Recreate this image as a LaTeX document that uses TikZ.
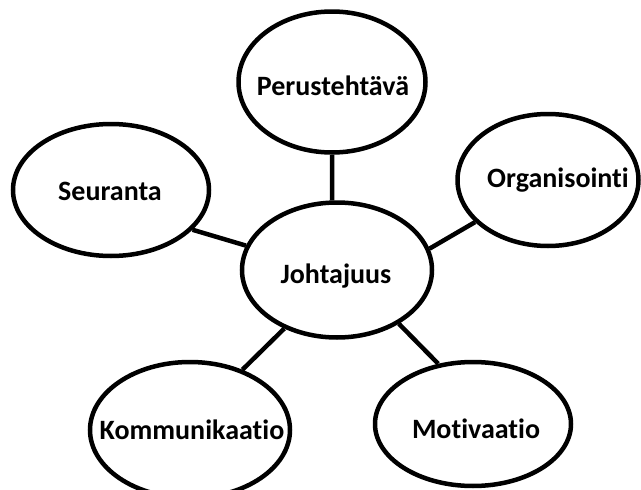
\documentclass[tikz,border=0pt]{standalone}
\usepackage{fontspec}
\setmainfont{Carlito}[Ligatures=NoCommon]
\usetikzlibrary{shapes.geometric}
\begin{document}
\begin{tikzpicture}[x=1pt,y=-1pt,
  oval/.style={ellipse,draw=black,line width=4.5pt,inner sep=0pt,fill=white},
  lbl/.style={anchor=base,inner sep=0pt,font=\fontsize{28}{33}\selectfont\bfseries},
  link/.style={draw=black,line width=4.5pt}]
\useasboundingbox[fill=white] (0,0) rectangle (641,490);
% ellipses
\node[oval,minimum width=190pt,minimum height=135pt] (J) at (337,270) {};
\node[oval,minimum width=187pt,minimum height=141pt] (P) at (332,82) {};
\node[oval,minimum width=196pt,minimum height=132pt] (S) at (111,190) {};
\node[oval,minimum width=181pt,minimum height=132pt] (O) at (548,180) {};
\node[oval,minimum width=200pt,minimum height=136pt] (K) at (190,430) {};
\node[oval,minimum width=196pt,minimum height=124pt] (M) at (473,424) {};
% connectors
\draw[link] (P.270) -- (J.94);
\draw[link] (S.-26) -- (J.165);
\draw[link] (O.210) -- (J.13);
\draw[link] (K.49) -- (J.228);
\draw[link] (M.120) -- (J.319);
% labels
\node[lbl] (tJ) at (336,283) {Johtajuus};
\node[lbl] (tP) at (333,95) {Perustehtävä};
\node[lbl] (tS) at (110,200) {Seuranta};
\node[lbl] (tO) at (558,187) {Organisointi};
\node[lbl] (tK) at (192,439) {Kommunikaatio};
\node[lbl] (tM) at (476,438) {Motivaatio};
\end{tikzpicture}
\end{document}
